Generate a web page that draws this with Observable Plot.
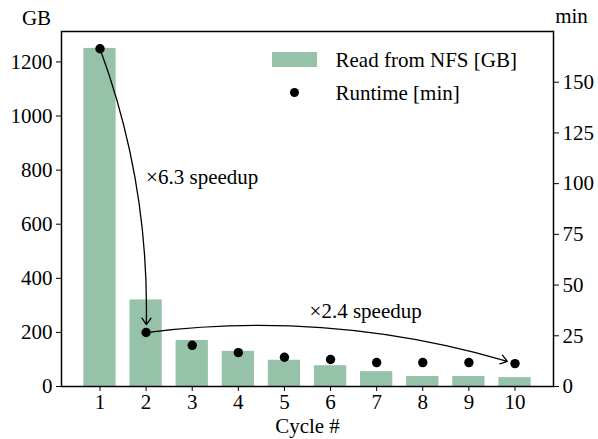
<!DOCTYPE html>
<html>
<head>
<meta charset="utf-8">
<script src="https://cdn.jsdelivr.net/npm/d3@7"></script>
<script src="https://cdn.jsdelivr.net/npm/@observablehq/plot@0.6"></script>
<style>
  html, body { margin: 0; padding: 0; background: #fff; }
  #chart svg, #chart svg text { font-family: "Liberation Serif", "DejaVu Serif", serif !important; }
</style>
</head>
<body>
<div id="chart"></div>
<script>
// ---- data ----
const cycles = [1, 2, 3, 4, 5, 6, 7, 8, 9, 10];
const readGB = [1250, 320, 170, 130, 97, 77, 55, 37, 37, 33];
const runtimeMin = [166.5, 26.6, 20.3, 16.7, 14.4, 13.3, 11.8, 11.8, 11.8, 11.3];
const leftTicks = [0, 200, 400, 600, 800, 1000, 1200];
const rightTicks = [0, 25, 50, 75, 100, 125, 150];
const seriesLabels = ["Read from NFS [GB]", "Runtime [min]"];
const axisUnits = ["GB", "min"];
const xLabel = "Cycle #";
const annFrom = [1, 2];
const annTo = [2, 10];
const annText = ["×6.3 speedup", "×2.4 speedup"];

// ---- scales ----
const gbMax = 1312.5, minMax = 175;
const k = gbMax / minMax; // runtime -> GB-scale factor
const barColor = "#97c2aa";

const data = cycles.map((c, i) => ({cycle: c, gb: readGB[i], min: runtimeMin[i]}));
const ann = annFrom.map((f, i) => ({from: f, to: annTo[i], label: annText[i]}));
const rt = c => runtimeMin[cycles.indexOf(c)] * k;

const font = "Liberation Serif";
const fs = 21;

const plot = Plot.plot({
  width: 598,
  height: 439,
  marginLeft: 61,
  marginRight: 45,
  marginTop: 31,
  marginBottom: 53,
  style: {fontFamily: font, fontSize: "21px", color: "black", background: "white"},
  x: {domain: [0.165, 10.835]},
  y: {domain: [0, gbMax]},
  marks: [
    Plot.rectY(data, {x1: d => d.cycle - 0.35, x2: d => d.cycle + 0.35, y: "gb", fill: barColor, inset: 0}),
    Plot.arrow([ann[0]], {
      x1: d => d.from, y1: d => rt(d.from), x2: d => d.to, y2: d => rt(d.to),
      bend: 11, insetStart: 0, insetEnd: 8, headLength: 9, headAngle: 70,
      stroke: "black", strokeWidth: 1.3
    }),
    Plot.arrow([ann[1]], {
      x1: d => d.from, y1: d => rt(d.from), x2: d => d.to, y2: d => rt(d.to),
      bend: 12, insetStart: 0, insetEnd: 8, headLength: 9, headAngle: 70,
      stroke: "black", strokeWidth: 1.3
    }),
    Plot.dot(data, {x: "cycle", y: d => d.min * k, r: 4.7, fill: "black", stroke: null}),
    // annotation labels
    Plot.text([ann[0]], {
      x: d => d.to, y: d => (rt(d.from) + rt(d.to)) / 2, text: "label",
      textAnchor: "start", lineAnchor: "middle", dy: -13, fontSize: fs, fontFamily: font
    }),
    Plot.text([ann[1]], {
      x: d => (d.from + d.to) / 2, y: d => rt(d.from), text: "label",
      textAnchor: "start", lineAnchor: "middle", dx: -21, dy: -21, fontSize: fs, fontFamily: font
    }),
    // axes
    Plot.axisX(cycles, {tickSize: 5, tickPadding: 3, tickFormat: d => String(d), label: null, fontSize: fs, fontFamily: font}),
    Plot.axisY(leftTicks, {anchor: "left", tickSize: 5, tickPadding: 4, tickFormat: d => String(d), label: null, fontSize: fs, fontFamily: font}),
    Plot.axisY(rightTicks.map(t => t * k), {anchor: "right", tickSize: 5, tickPadding: 4,
      tickFormat: d => String(Math.round(d / k)), label: null, fontSize: fs, fontFamily: font}),
    Plot.frame({stroke: "black", strokeWidth: 1.5}),
    // axis titles
    Plot.text([axisUnits[0]], {frameAnchor: "top-left", dx: -25, dy: -13, textAnchor: "middle", lineAnchor: "middle", fontSize: fs, fontFamily: font}),
    Plot.text([axisUnits[1]], {frameAnchor: "top-right", dx: 18, dy: -15, textAnchor: "middle", lineAnchor: "middle", fontSize: fs, fontFamily: font}),
    Plot.text([xLabel], {frameAnchor: "bottom", dy: 40, textAnchor: "middle", lineAnchor: "middle", fontSize: fs, fontFamily: font}),
    // legend
    Plot.text([seriesLabels[0]], {frameAnchor: "top-left", dx: 274, dy: 29, textAnchor: "start", lineAnchor: "middle", fontSize: fs, fontFamily: font}),
    Plot.text([seriesLabels[1]], {frameAnchor: "top-left", dx: 274, dy: 62, textAnchor: "start", lineAnchor: "middle", fontSize: fs, fontFamily: font}),
    Plot.dot([seriesLabels[1]], {frameAnchor: "top-left", dx: 233, dy: 61, r: 4.5, fill: "black", stroke: null})
  ]
});

// legend swatch for bars
d3.select(plot).append("rect")
  .attr("x", 272).attr("y", 52).attr("width", 45).attr("height", 15)
  .attr("fill", barColor);

document.getElementById("chart").appendChild(plot);
</script>
</body>
</html>
